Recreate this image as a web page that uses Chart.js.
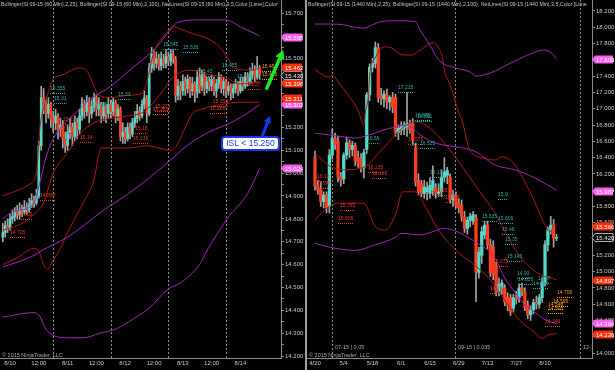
<!DOCTYPE html>
<html>
<head>
<meta charset="utf-8">
<script src="https://cdn.jsdelivr.net/npm/chart.js@4.4.0/dist/chart.umd.min.js"></script>
<style>
html, body { margin: 0; padding: 0; background: #000; }
#wrap { position: relative; width: 615px; height: 370px; overflow: hidden; background: #000; }
#cl { position: absolute; left: 0; top: 0; }
#sep { position: absolute; left: 305px; top: 0; width: 2px; height: 370px; background: #a0a0a0; }
#cr { position: absolute; left: 307px; top: 0; }
</style>
</head>
<body>
<div id="wrap">
  <canvas id="cl" width="305" height="370"></canvas>
  <div id="sep"></div>
  <canvas id="cr" width="308" height="370"></canvas>
</div>
<script>
// ---- left panel: SI 09-15, 60 min bars, x = hours from 8/10 00:00 ----
const leftStartHour = -3;
const leftOpen = [14.72,14.74,14.77,14.76,
  14.80,14.81,14.83,14.82,14.84,14.83,14.85,14.84,
  14.86,14.88,14.87,
  14.90,15.12,15.33,
  15.30,15.26,15.30,
  15.24,15.22,15.25,15.19,
  15.21,15.15,15.12,
  15.18,15.20,15.16,15.22,
  15.19,15.25,15.30,
  15.27,15.31,15.26,15.29,
  15.33,15.28,15.30,15.25,15.29,15.26,
  15.30,15.27,15.31,15.25,15.28,
  15.16,15.18,15.15,15.20,15.17,
  15.22,15.24,15.27,15.25,15.30,
  15.33,15.26,
  15.46,15.52,15.48,
  15.50,15.47,15.50,15.48,15.51,15.49,15.52,
  15.50,15.34,
  15.38,15.36,15.40,15.37,15.41,
  15.36,15.39,15.35,15.42,
  15.38,15.43,15.37,
  15.40,15.38,15.41,15.36,
  15.39,15.42,15.37,15.40,
  15.36,15.38,15.35,15.37,15.39,
  15.36,15.40,15.38,15.42,15.40,
  15.43,15.45,15.42,15.46];
const leftHigh = [14.78,14.79,14.80,14.82,
  14.84,14.85,14.86,14.87,14.86,14.88,14.87,14.89,
  14.91,14.90,14.93,
  15.14,15.38,15.37,
  15.32,15.33,15.31,
  15.27,15.28,15.26,15.24,
  15.23,15.18,15.21,
  15.24,15.22,15.25,15.24,
  15.28,15.33,15.32,
  15.34,15.33,15.32,15.35,
  15.34,15.33,15.31,15.31,15.30,15.33,
  15.32,15.33,15.32,15.30,15.29,
  15.22,15.20,15.22,15.22,15.24,
  15.27,15.30,15.29,15.32,15.36,
  15.34,15.48,
  15.55,15.54,15.53,
  15.52,15.53,15.52,15.54,15.53,15.54,15.54,
  15.51,15.41,
  15.40,15.43,15.42,15.43,15.42,
  15.42,15.40,15.45,15.46,
  15.45,15.44,15.42,
  15.42,15.43,15.42,15.41,
  15.44,15.43,15.42,15.41,
  15.40,15.39,15.39,15.41,15.40,
  15.42,15.42,15.44,15.44,15.46,
  15.48,15.47,15.51,15.47];
const leftLow = [14.70,14.72,14.74,14.75,
  14.78,14.79,14.80,14.80,14.81,14.82,14.82,14.83,
  14.85,14.85,14.86,
  14.89,15.10,15.26,
  15.22,15.24,15.20,
  15.18,15.19,15.15,15.16,
  15.11,15.09,15.10,
  15.15,15.12,15.14,15.15,
  15.17,15.23,15.24,
  15.25,15.22,15.24,15.27,
  15.25,15.25,15.22,15.23,15.22,15.24,
  15.24,15.25,15.22,15.23,15.14,
  15.13,15.13,15.14,15.15,15.16,
  15.20,15.22,15.23,15.24,15.28,
  15.22,15.25,
  15.44,15.45,15.46,
  15.45,15.45,15.46,15.46,15.47,15.47,15.48,
  15.31,15.32,
  15.32,15.34,15.34,15.35,15.33,
  15.34,15.31,15.33,15.35,
  15.36,15.34,15.35,
  15.36,15.36,15.34,15.33,
  15.37,15.35,15.34,15.33,
  15.34,15.32,15.33,15.35,15.34,
  15.35,15.36,15.37,15.38,15.39,
  15.41,15.40,15.41,15.41];
const leftClose = [14.74,14.77,14.76,14.80,
  14.81,14.83,14.82,14.84,14.83,14.85,14.84,14.86,
  14.88,14.87,14.90,
  15.12,15.33,15.30,
  15.26,15.30,15.24,
  15.22,15.25,15.19,15.21,
  15.15,15.12,15.18,
  15.20,15.16,15.22,15.19,
  15.25,15.30,15.27,
  15.31,15.26,15.29,15.33,
  15.28,15.30,15.25,15.29,15.26,15.30,
  15.27,15.31,15.25,15.28,15.16,
  15.18,15.15,15.20,15.17,15.22,
  15.24,15.27,15.25,15.30,15.33,
  15.26,15.46,
  15.52,15.48,15.50,
  15.47,15.50,15.48,15.51,15.49,15.52,15.50,
  15.34,15.38,
  15.36,15.40,15.37,15.41,15.36,
  15.39,15.35,15.42,15.38,
  15.43,15.37,15.40,
  15.38,15.41,15.36,15.39,
  15.42,15.37,15.40,15.36,
  15.38,15.35,15.37,15.39,15.36,
  15.40,15.38,15.42,15.40,15.43,
  15.45,15.42,15.46,15.43];

// bollinger bands, [hour, value]
const leftBB25Upper = [[-3,14.90],[8,14.95],[11,15.00],[12.5,15.20],[15,15.32],[18,15.41],[22,15.43],[29,15.46],[32.5,15.44],[35,15.38],[37,15.34],[42,15.33],[49,15.34],[55,15.35],[57,15.40],[60,15.53],[65,15.61],[68,15.64],[71,15.63],[76,15.61],[82,15.59],[87.5,15.55],[92,15.48],[93,15.46],[101,15.45],[104,15.46]];
const leftBB25Mid = [[-3,14.75],[5,14.78],[10,14.82],[14,14.87],[18,15.00],[24,15.09],[29,15.17],[35,15.22],[42,15.24],[49,15.25],[56,15.27],[63,15.35],[68,15.42],[75,15.45],[83,15.43],[89,15.42],[96,15.39],[104,15.40]];
const leftBB25Lower = [[-3,14.60],[3,14.63],[10,14.67],[12,14.66],[14,14.60],[15.5,14.58],[18,14.62],[21,14.67],[24,14.74],[29,14.84],[33,14.92],[35,14.97],[37,15.08],[38,15.11],[50,15.11],[57,15.12],[62,15.11],[67,15.10],[70,15.13],[73,15.20],[76,15.26],[80,15.28],[88,15.30],[96,15.31],[104,15.31]];
const leftBB100Upper = [[-3,14.80],[1,14.83],[10,14.87],[12,14.94],[15,15.07],[18,15.15],[22,15.21],[28,15.27],[33,15.32],[42,15.38],[51,15.46],[61,15.55],[67,15.63],[70,15.66],[79,15.67],[90,15.67],[96,15.64],[104,15.60]];
const leftBB100Mid = [[-3,14.59],[3,14.61],[10,14.64],[13,14.66],[24,14.72],[38,14.83],[52,14.93],[65,15.04],[75,15.13],[83,15.18],[92,15.22],[100,15.27],[104,15.30]];
const leftBB100Lower = [[-3,14.37],[10,14.39],[12,14.38],[15.5,14.31],[24,14.28],[30.5,14.28],[37.5,14.30],[44.5,14.32],[51,14.36],[58,14.41],[65.5,14.49],[71,14.52],[79,14.60],[82,14.66],[90.5,14.80],[99,14.91],[104,15.02]];

// net lines labels [hour, price, kind]
const leftNet = [[16.7,15.355,'t'],[18.3,15.31,'t'],[34.2,15.285,'t'],[45,15.33,'t'],[63.8,15.545,'t'],[72.1,15.536,'t'],[79.2,15.43,'t'],[88.3,15.455,'t'],[94.6,15.405,'t'],
  [0,14.725,'r'],[2.9,14.805,'r'],[12.5,14.888,'r'],[22.1,15.22,'r'],[20.8,15.18,'r'],[29.2,15.14,'r'],[52.1,15.18,'r'],[51.3,15.136,'r'],[60.4,15.275,'r'],[59.6,15.265,'r'],[75,15.36,'r'],[84.6,15.298,'r'],[83.3,15.268,'r'],[99.2,15.37,'r'],
  [105,15.45,'o'],[105,15.415,'o']];
const leftBoxes = [[15.595,'m'],[15.462,'r'],[15.430,'k'],[15.396,'r'],[15.311,'r'],[15.302,'m'],[15.024,'m']];
const leftSessionBreaks = [18, 42, 66, 90];
const leftXTicks = [0, 12, 24, 36, 48, 60, 72, 84, 96];
const leftXLabels = ['8/10','12:00','8/11','12:00','8/12','12:00','8/13','12:00','8/14'];
const leftYTicks = [14.2,14.3,14.4,14.5,14.6,14.7,14.8,14.9,15.0,15.1,15.2,15.3,15.4,15.5,15.6,15.7];
const leftArrowUp = [[107, 15.371], [113.9, 15.538]];
const leftArrowStop = [[105, 15.158], [108.3, 15.25]];
const leftCallout = [100.2, 15.129, 'ISL < 15.250'];

// ---- right panel: SI daily bars, x = trading days from 4/20 ----
const rightStartDay = 0;
const rightOpen = [16.40,16.05,16.02,15.86,15.94,15.80,16.43,16.64,16.60,16.16,
  16.14,16.43,16.58,16.50,16.55,16.40,16.38,16.27,16.50,17.17,
  17.51,17.56,17.75,17.16,17.12,17.18,17.08,17.14,17.14,16.71,
  16.74,16.76,16.78,16.80,16.82,16.52,16.12,16.08,15.96,15.98,
  15.96,16.00,16.02,15.96,15.98,16.16,16.18,16.16,15.88,15.94,
  15.84,15.82,15.67,15.53,15.63,15.62,15.66,14.99,15.20,15.45,
  15.57,15.33,15.30,15.08,14.75,14.80,14.80,14.68,14.68,14.55,
  14.68,14.68,14.80,14.75,14.59,14.47,14.53,14.62,14.60,14.68,
  14.87,15.33,15.51,15.57,15.41];
const rightHigh = [16.48,16.12,16.10,15.98,15.98,16.50,16.75,16.70,16.66,16.22,
  16.46,16.65,16.62,16.60,16.58,16.48,16.45,16.50,17.20,17.55,
  17.62,17.82,17.80,17.25,17.22,17.24,17.16,17.20,17.18,16.80,
  16.84,16.84,17.20,16.86,16.88,16.58,16.20,16.12,16.12,16.10,
  16.15,16.30,16.08,16.08,16.25,16.40,16.28,16.20,16.00,15.98,
  15.90,15.88,15.74,15.67,15.72,15.74,15.70,15.30,15.55,15.62,
  15.62,15.40,15.38,15.12,14.92,14.90,14.84,14.74,14.72,14.72,
  14.76,14.85,14.86,14.80,14.64,14.58,14.66,14.70,14.72,14.92,
  15.38,15.55,15.68,15.64,15.46];
const rightLow = [16.00,15.95,15.80,15.78,15.72,15.72,16.38,16.50,16.10,16.05,
  16.08,16.38,16.40,16.42,16.30,16.28,16.22,16.15,16.45,17.10,
  17.45,17.50,17.08,17.05,17.02,17.00,16.98,16.95,16.66,16.62,
  16.68,16.68,16.66,16.70,16.55,16.05,15.94,15.92,15.90,15.88,
  15.90,15.94,15.90,15.92,15.92,16.10,16.08,15.84,15.80,15.78,
  15.72,15.62,15.48,15.46,15.55,15.58,14.63,14.92,15.10,15.40,
  15.28,14.94,14.90,14.70,14.70,14.72,14.58,14.52,14.46,14.50,
  14.60,14.62,14.70,14.52,14.42,14.40,14.48,14.54,14.55,14.62,
  14.82,15.25,15.46,15.30,15.38];
const rightClose = [16.05,16.00,15.86,15.94,15.78,16.43,16.64,16.56,16.16,16.12,
  16.43,16.58,16.50,16.55,16.36,16.33,16.27,16.46,17.17,17.51,
  17.56,17.75,17.14,17.12,17.18,17.08,17.14,17.02,16.71,16.76,
  16.78,16.80,16.82,16.74,16.61,16.10,15.98,15.96,16.04,16.03,
  16.06,16.12,15.96,15.98,16.16,16.22,16.24,15.88,15.94,15.82,
  15.78,15.67,15.53,15.63,15.68,15.70,14.99,15.24,15.49,15.57,
  15.33,14.99,14.96,14.75,14.84,14.86,14.63,14.59,14.50,14.68,
  14.66,14.80,14.76,14.56,14.47,14.53,14.62,14.60,14.68,14.87,
  15.33,15.51,15.57,15.41,15.42];

const rightBB25Upper = [[0,17.48],[1.7,17.44],[4.5,17.39],[6.3,17.41],[8,17.33],[11.5,17.17],[15,16.98],[17,16.80],[17.5,16.95],[18.5,17.14],[19.1,17.44],[20.9,17.62],[23.3,17.75],[25.4,17.76],[27.8,17.72],[30.3,17.66],[33.7,17.66],[35.8,17.70],[38.3,17.76],[40.7,17.81],[42.4,17.78],[44.2,17.64],[45.2,17.44],[46.3,17.35],[48,17.19],[49.7,16.98],[51.1,16.86],[53.9,16.49],[59.1,16.39],[62.6,16.37],[65,16.41],[67.1,16.39],[69.6,16.31],[73,16.10],[76.5,15.85],[80,15.57],[81.7,15.49],[83.5,15.58],[84,15.56]];
const rightBB25Mid = [[0,16.45],[5,16.30],[10,16.25],[17,16.28],[23,16.49],[31,16.78],[35,16.84],[40,16.76],[45,16.58],[49,16.40],[54,16.15],[58,15.95],[62,15.75],[66,15.50],[70,15.25],[74,15.08],[78,14.97],[84,14.90]];
const rightBB25Lower = [[0,15.63],[3.5,15.76],[8,15.84],[17,15.84],[21,15.55],[24.5,15.51],[28,15.70],[30.5,15.98],[35,15.98],[38.5,15.79],[43,15.51],[49,15.26],[54,15.12],[61,14.90],[66,14.65],[71,14.41],[76.5,14.25],[79,14.18],[81,14.22],[84,14.24]];
const rightBB100Upper = [[0,18.04],[5,18.04],[10,18.03],[14,18.00],[17,17.99],[20,18.03],[23,18.07],[28,18.08],[35,18.07],[36.5,17.97],[40,17.78],[43,17.60],[49,17.50],[54,17.45],[56,17.40],[61,17.44],[68,17.56],[75.5,17.68],[79.5,17.72],[82.5,17.68],[84,17.61]];
const rightBB100Mid = [[0,16.70],[9,16.66],[14,16.64],[19,16.68],[24,16.74],[30,16.79],[32,16.80],[36.5,16.68],[41,16.59],[56,16.47],[62.5,16.31],[69.5,16.25],[76.5,16.15],[84,16.00]];
const rightBB100Lower = [[0,15.35],[5,15.30],[14,15.26],[21,15.33],[28,15.42],[30,15.47],[36.5,15.45],[41,15.49],[44.5,15.53],[48,15.51],[56,15.36],[62.5,15.17],[66,14.92],[69.5,14.75],[73,14.59],[76.5,14.50],[80,14.41],[84,14.36]];

const rightNet = [[28.9,17.215,'t'],[34.8,16.875,'t'],[35.5,16.861,'t'],[18.1,16.59,'t'],[36.5,16.535,'t'],[40,16.17,'t'],[63.7,15.9,'t'],[58.1,15.635,'t'],[63.7,15.606,'t'],[65,15.48,'t'],[66.1,15.35,'t'],[66.8,15.145,'t'],[70.3,14.93,'t'],[70.6,14.855,'t'],[77.6,14.87,'t'],[75.8,14.815,'t'],
  [0.7,16.13,'r'],[0.7,16.04,'r'],[18.4,16.235,'r'],[19.8,16.166,'r'],[8.7,15.765,'r'],[8,15.606,'r'],[32.3,16.575,'r'],[40.7,15.955,'r'],[45.2,15.865,'r'],[61.9,15.075,'r'],[60.9,14.75,'r'],[80,14.346,'r'],
  [84.2,14.705,'o'],[82.8,14.595,'o'],[81,14.548,'o'],[81,14.505,'o']];
const rightBoxes = [[17.609,'m'],[15.987,'m'],[15.566,'r'],[15.420,'k'],[14.897,'r'],[14.364,'m'],[14.236,'r']];
const rightRollovers = [5.9, 48.7, 92.2];
const rightRolloverText = ['07-15 | 0.05', '09-15 | 0.035', '12-15 | 0'];
const rightXTicks = [0, 10, 20, 30, 40, 50, 60, 70, 80];
const rightXLabels = ['4/20','5/4','5/18','6/1','6/15','6/29','7/13','7/27','8/10'];
const rightYTicks = [14.0,14.2,14.4,14.6,14.8,15.0,15.2,15.4,15.6,15.8,16.0,16.2,16.4,16.6,16.8,17.0,17.2,17.4,17.6,17.8,18.0,18.2];

const FONT = '"Liberation Sans", Arial, sans-serif';
const UP = '#4fdccb', DOWN = '#ff3d1f', WICK = '#a4a4a4';
const RED_BAND = '#b3190c', PURPLE_BAND = '#a526b5';
const NET_COLORS = { t: '#2fb0a8', r: '#ee3a1c', o: '#ff9d0a' };
const BOX_COLORS = { m: ['#ff5cf2', '#ffffff'], r: ['#ff2e0a', '#ffffff'], k: ['#0c0c0c', '#e6e6e6'] };

function arrow(ctx, x1, y1, x2, y2, color, w, head) {
  const ang = Math.atan2(y2 - y1, x2 - x1);
  const bx = x2 - head * Math.cos(ang), by = y2 - head * Math.sin(ang);
  ctx.strokeStyle = color;
  ctx.fillStyle = color;
  ctx.lineWidth = w;
  ctx.lineCap = 'round';
  ctx.beginPath(); ctx.moveTo(x1, y1); ctx.lineTo(bx, by); ctx.stroke();
  ctx.beginPath();
  ctx.moveTo(x2, y2);
  ctx.lineTo(bx + head * 0.55 * Math.sin(ang), by - head * 0.55 * Math.cos(ang));
  ctx.lineTo(bx - head * 0.55 * Math.sin(ang), by + head * 0.55 * Math.cos(ang));
  ctx.closePath();
  ctx.fill();
}

function ninjaPlugin(p) {
  return {
    id: 'ninja',
    beforeDatasetsDraw(chart) {
      const ctx = chart.ctx, a = chart.chartArea, x = chart.scales.x;
      ctx.save();
      ctx.strokeStyle = '#8c8c8c';
      ctx.lineWidth = 1;
      ctx.setLineDash([2, 2]);
      p.breaks.forEach(b => {
        const px = Math.round(x.getPixelForValue(b)) + 0.5;
        ctx.beginPath(); ctx.moveTo(px, a.top); ctx.lineTo(px, a.bottom); ctx.stroke();
      });
      ctx.restore();
    },
    afterDatasetsDraw(chart) {
      const ctx = chart.ctx, a = chart.chartArea, x = chart.scales.x, y = chart.scales.y;
      ctx.save();
      ctx.beginPath(); ctx.rect(a.left, a.top, a.width, a.height); ctx.clip();
      ctx.font = '5px ' + FONT;
      ctx.textBaseline = 'bottom';
      ctx.textAlign = 'left';
      ctx.lineWidth = 1;
      p.net.forEach(([xv, price, kind]) => {
        const px = Math.round(x.getPixelForValue(xv));
        const py = Math.round(y.getPixelForValue(price)) + 0.5;
        const txt = String(price);
        const w = ctx.measureText(txt).width;
        ctx.fillStyle = NET_COLORS[kind];
        ctx.strokeStyle = NET_COLORS[kind];
        ctx.fillText(txt, px, py - 1);
        ctx.setLineDash([1, 1]);
        ctx.beginPath(); ctx.moveTo(px, py + 1); ctx.lineTo(px + w, py + 1); ctx.stroke();
      });
      ctx.setLineDash([]);
      ctx.fillStyle = '#a8a8a8';
      ctx.textBaseline = 'middle';
      ctx.font = '5.5px ' + FONT;
      (p.rollText || []).forEach((t, i) => {
        ctx.fillText(t, Math.round(x.getPixelForValue(p.breaks[i])) + 3, a.bottom - 11);
      });
      ctx.fillText('\u00a9 2015 NinjaTrader, LLC', a.left + 2, a.bottom - 3);
      ctx.font = '5.25px ' + FONT;
      ctx.fillStyle = '#c4c4c4';
      ctx.textBaseline = 'top';
      ctx.fillText(p.title, a.left + 1, 2);
      ctx.restore();
    },
    afterDraw(chart) {
      const ctx = chart.ctx, a = chart.chartArea, x = chart.scales.x, y = chart.scales.y;
      ctx.save();
      // price markers on the axis
      const boxes = p.boxes.map(([v, k]) => ({ v, k, py: y.getPixelForValue(v) }))
        .sort((m, n) => n.py - m.py);
      for (let i = 1; i < boxes.length; i++) {
        if (boxes[i].py > boxes[i - 1].py - 6) boxes[i].py = boxes[i - 1].py - 6;
      }
      ctx.font = '6px ' + FONT;
      ctx.textBaseline = 'middle';
      ctx.textAlign = 'left';
      boxes.forEach(b => {
        const bx = a.right, py = Math.round(b.py) + 0.5, h = 8, w = 21;
        ctx.beginPath();
        ctx.moveTo(bx, py);
        ctx.lineTo(bx + 3, py - h / 2);
        ctx.lineTo(bx + w, py - h / 2);
        ctx.lineTo(bx + w, py + h / 2);
        ctx.lineTo(bx + 3, py + h / 2);
        ctx.closePath();
        ctx.fillStyle = BOX_COLORS[b.k][0];
        ctx.fill();
        if (b.k === 'k') { ctx.strokeStyle = '#b0b0b0'; ctx.lineWidth = 1; ctx.stroke(); }
        ctx.fillStyle = BOX_COLORS[b.k][1];
        ctx.fillText(b.v.toFixed(3), bx + 4, py + 0.5);
      });
      // drawn annotations
      if (p.arrows) {
        p.arrows.forEach(([from, to, color, w, head]) => {
          arrow(ctx, x.getPixelForValue(from[0]), y.getPixelForValue(from[1]),
            x.getPixelForValue(to[0]), y.getPixelForValue(to[1]), color, w, head);
        });
      }
      if (p.callout) {
        const cx = x.getPixelForValue(p.callout[0]), cy = y.getPixelForValue(p.callout[1]);
        const w = 57, h = 13;
        ctx.beginPath();
        ctx.roundRect(cx - w / 2, cy - h / 2, w, h, 3);
        ctx.fillStyle = '#ffffff';
        ctx.fill();
        ctx.strokeStyle = '#1438f0';
        ctx.lineWidth = 2;
        ctx.stroke();
        ctx.fillStyle = '#1a3ad8';
        ctx.font = '8.5px ' + FONT;
        ctx.textAlign = 'center';
        ctx.textBaseline = 'middle';
        ctx.fillText(p.callout[2], cx, cy + 0.5);
      }
      ctx.restore();
    }
  };
}

function band(points, color) {
  return {
    type: 'line',
    data: points.map(q => ({ x: q[0], y: q[1] })),
    borderColor: color,
    borderWidth: 1,
    pointRadius: 0,
    cubicInterpolationMode: 'monotone',
    order: 0
  };
}

function buildChart(canvasId, p) {
  const bodies = [], wicks = [], colors = [];
  for (let i = 0; i < p.open.length; i++) {
    const xv = p.start + i;
    wicks.push({ x: xv, y: [p.low[i], p.high[i]] });
    bodies.push({ x: xv, y: [p.open[i], p.close[i]] });
    colors.push(p.close[i] >= p.open[i] ? UP : DOWN);
  }
  const datasets = [
    { type: 'bar', data: wicks, backgroundColor: WICK, barThickness: 1, grouped: false, order: 3 },
    { type: 'bar', data: bodies, backgroundColor: colors, barThickness: p.body, grouped: false, order: 2 }
  ];
  p.bands.forEach(b => datasets.push(band(b[0], b[1])));

  return new Chart(document.getElementById(canvasId), {
    type: 'bar',
    data: { datasets: datasets },
    options: {
      responsive: false,
      animation: false,
      events: [],
      layout: { padding: 0 },
      plugins: { legend: { display: false }, tooltip: { enabled: false } },
      scales: {
        x: {
          type: 'linear',
          min: p.xMin,
          max: p.xMax,
          offset: false,
          grid: { display: false, drawTicks: false },
          border: { display: true, color: '#8c8c8c' },
          ticks: {
            color: '#c8c8c8',
            font: { size: 6, family: FONT },
            padding: 2,
            maxRotation: 0,
            autoSkip: false,
            callback: v => {
              const i = p.xTicks.indexOf(v);
              return i >= 0 ? p.xLabels[i] : '';
            }
          },
          afterBuildTicks: s => { s.ticks = p.xTicks.map(v => ({ value: v })); },
          afterFit: s => { s.height = 12; s.paddingLeft = 0; s.paddingRight = 0; }
        },
        y: {
          position: 'right',
          min: p.yMin,
          max: p.yMax,
          grid: { drawOnChartArea: false, drawTicks: true, tickLength: 3, color: '#8c8c8c' },
          border: { display: true, color: '#8c8c8c' },
          ticks: {
            color: '#c8c8c8',
            font: { size: 6, family: FONT },
            padding: 1,
            autoSkip: false,
            callback: v => p.yTicks.some(t => Math.abs(t - v) < 1e-6) ? v.toFixed(3) : ''
          },
          afterBuildTicks: s => {
            const t = [];
            p.yTicks.forEach((v, i) => {
              t.push({ value: v });
              if (p.yMinor && i < p.yTicks.length - 1) t.push({ value: (v + p.yTicks[i + 1]) / 2 });
            });
            s.ticks = t;
          },
          afterFit: s => { s.width = p.yWidth; s.paddingTop = 0; s.paddingBottom = 0; }
        }
      }
    },
    plugins: [ninjaPlugin(p)]
  });
}

buildChart('cl', {
  start: leftStartHour, open: leftOpen, high: leftHigh, low: leftLow, close: leftClose, body: 2,
  bands: [[leftBB100Upper, PURPLE_BAND], [leftBB100Mid, PURPLE_BAND], [leftBB100Lower, PURPLE_BAND],
          [leftBB25Upper, RED_BAND], [leftBB25Mid, RED_BAND], [leftBB25Lower, RED_BAND]],
  xMin: -4.17, xMax: 112.92, yMin: 14.1915, yMax: 15.757, yWidth: 24,
  xTicks: leftXTicks, xLabels: leftXLabels, yTicks: leftYTicks, yMinor: true,
  breaks: leftSessionBreaks, net: leftNet, boxes: leftBoxes,
  title: 'Bollinger(SI 09-15 (60 Min),2,25), Bollinger(SI 09-15 (60 Min),2,100), NetLines(SI 09-15 (60 Min),3,5,Color [Lime],Color',
  arrows: [[leftArrowUp[0], leftArrowUp[1], '#1ee81e', 3.5, 9], [leftArrowStop[0], leftArrowStop[1], '#1438f0', 3, 7]],
  callout: leftCallout
});

buildChart('cr', {
  start: rightStartDay, open: rightOpen, high: rightHigh, low: rightLow, close: rightClose, body: 2.6,
  bands: [[rightBB100Upper, PURPLE_BAND], [rightBB100Mid, PURPLE_BAND], [rightBB100Lower, PURPLE_BAND],
          [rightBB25Upper, RED_BAND], [rightBB25Mid, RED_BAND], [rightBB25Lower, RED_BAND]],
  xMin: -2.78, xMax: 96.35, yMin: 13.939, yMax: 18.335, yWidth: 23,
  xTicks: rightXTicks, xLabels: rightXLabels, yTicks: rightYTicks, yMinor: false,
  breaks: rightRollovers, rollText: rightRolloverText, net: rightNet, boxes: rightBoxes,
  title: 'Bollinger(SI 09-15 (1440 Min),2,25), Bollinger(SI 09-15 (1440 Min),2,100), NetLines(SI 09-15 (1440 Min),3,5,Color [Lime'
});
</script>
</body>
</html>
